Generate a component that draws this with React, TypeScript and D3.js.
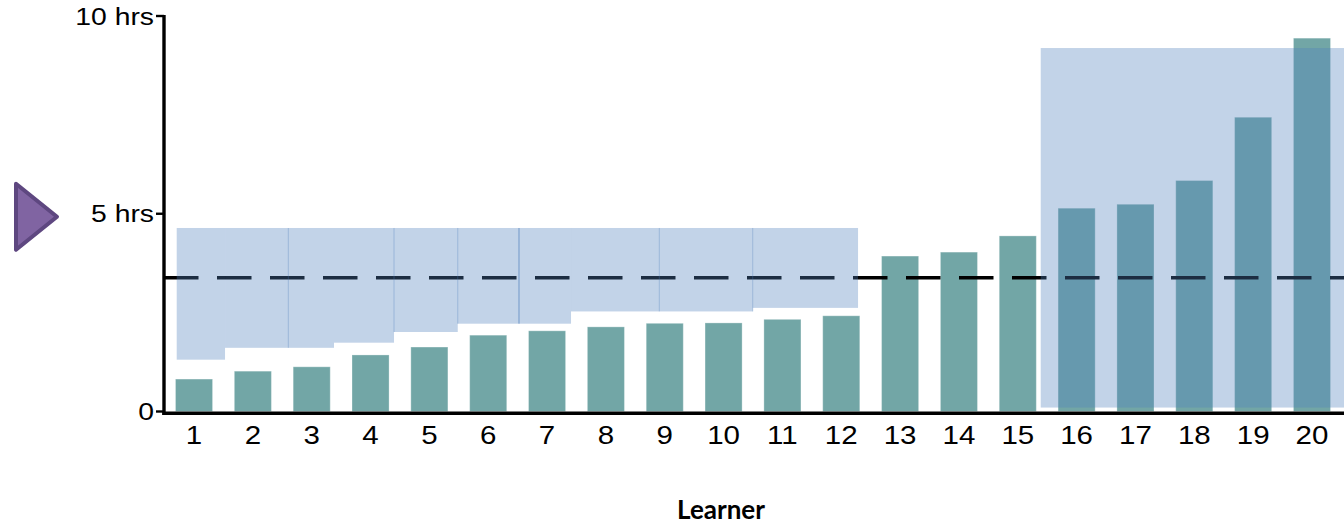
import React, { useEffect, useRef } from 'react';
import * as d3 from 'd3';

// learners on the x axis
const learners = ['1', '2', '3', '4', '5', '6', '7', '8', '9', '10', '11', '12', '13', '14', '15', '16', '17', '18', '19', '20'];
// hours per learner
const hours = [0.82, 1.02, 1.13, 1.43, 1.63, 1.93, 2.04, 2.14, 2.23, 2.24, 2.33, 2.42, 3.93, 4.03, 4.44, 5.14, 5.24, 5.84, 7.44, 9.44];
const averageHours = 3.38;

const yTicks = [0, 5, 10];
const yTickLabels = ['0', '5 hrs', '10 hrs'];

// shaded bands, x in learner units, y in hours: [from, to, bottom, top]
const lowBand: [number, number, number, number][] = [
  [0.706, 1.527, 1.31, 4.64],
  [1.527, 2.603, 1.61, 4.64],
  [2.603, 3.379, 1.61, 4.64],
  [3.379, 4.399, 1.74, 4.64],
  [4.399, 5.482, 2.01, 4.64],
  [5.482, 6.523, 2.22, 4.64],
  [6.523, 7.407, 2.22, 4.64],
  [7.407, 8.908, 2.53, 4.64],
  [8.908, 10.495, 2.53, 4.64],
  [10.495, 12.285, 2.62, 4.64],
];
// seams between band pieces: [x, bottom, width]
const seams: [number, number, number][] = [
  [2.603, 1.61, 1],
  [4.399, 2.01, 1],
  [5.482, 2.22, 1],
  [6.523, 2.22, 2],
  [8.908, 2.53, 1],
  [10.495, 2.53, 1],
];
const highBand: [number, number, number, number] = [15.39, 20.7, 0.1, 9.19];

const W = 1344;
const H = 526;
const STRETCH = 1.18;

const App: React.FC = () => {
  const svgRef = useRef<SVGSVGElement>(null);

  useEffect(() => {
    if (!svgRef.current) return;
    const svg = d3.select(svgRef.current);
    svg.selectAll('*').remove();

    const axisX = 164;
    const x = d3.scaleBand<string>()
      .domain(learners)
      .range([164.6, 1341.4])
      .paddingInner(0.37)
      .paddingOuter(0.185);
    const bw = x.bandwidth();
    const xPos = d3.scaleLinear()
      .domain([1, 20])
      .range([x('1')! + bw / 2, x('20')! + bw / 2]);
    const y = d3.scaleLinear().domain([0, 10]).range([411.5, 16]);

    // bars
    svg.append('g')
      .selectAll('rect')
      .data(hours)
      .enter()
      .append('rect')
      .attr('x', (_, i) => x(learners[i])!)
      .attr('y', d => y(d))
      .attr('width', bw)
      .attr('height', d => y(0) - y(d))
      .attr('fill', '#72a6a6')
      .attr('stroke', 'rgba(255,255,255,0.3)')
      .attr('stroke-width', 1);

    // average line
    svg.append('line')
      .attr('x1', axisX)
      .attr('x2', W)
      .attr('y1', y(averageHours))
      .attr('y2', y(averageHours))
      .attr('stroke', '#000')
      .attr('stroke-width', 3.6)
      .attr('stroke-dasharray', '34.5 18.5');

    // shaded bands
    const bands = svg.append('g').attr('fill', '#4f81bd').attr('fill-opacity', 0.35);
    bands.selectAll('rect.low')
      .data(lowBand)
      .enter()
      .append('rect')
      .attr('class', 'low')
      .attr('x', d => xPos(d[0]))
      .attr('width', d => xPos(d[1]) - xPos(d[0]))
      .attr('y', d => y(d[3]))
      .attr('height', d => y(d[2]) - y(d[3]));
    bands.append('rect')
      .attr('x', xPos(highBand[0]))
      .attr('width', xPos(highBand[1]) - xPos(highBand[0]))
      .attr('y', y(highBand[3]))
      .attr('height', y(highBand[2]) - y(highBand[3]));

    svg.append('g')
      .selectAll('line')
      .data(seams)
      .enter()
      .append('line')
      .attr('x1', d => xPos(d[0]))
      .attr('x2', d => xPos(d[0]))
      .attr('y1', y(lowBand[0][3]))
      .attr('y2', d => y(d[1]))
      .attr('stroke', '#4f81bd')
      .attr('stroke-opacity', 0.35)
      .attr('stroke-width', d => d[2]);

    // axes
    svg.append('line')
      .attr('x1', axisX).attr('x2', axisX)
      .attr('y1', y(10) - 1).attr('y2', y(0) + 3.5)
      .attr('stroke', '#000').attr('stroke-width', 3.4);
    svg.append('line')
      .attr('x1', axisX - 1.7).attr('x2', W)
      .attr('y1', y(0) + 1.8).attr('y2', y(0) + 1.8)
      .attr('stroke', '#000').attr('stroke-width', 3.4);

    const yt = svg.append('g')
      .selectAll('g')
      .data(yTicks)
      .enter()
      .append('g')
      .attr('transform', d => `translate(${axisX},${y(d)})`);
    yt.append('line')
      .attr('x1', -8).attr('x2', 0)
      .attr('stroke', '#000').attr('stroke-width', 2.4);
    yt.append('text')
      .attr('transform', `translate(-10,0) scale(${STRETCH},1)`)
      .attr('dy', '0.36em')
      .attr('text-anchor', 'end')
      .style('font-family', '"Liberation Sans", Arial, sans-serif')
      .style('font-size', '24px')
      .attr('fill', '#000')
      .text((_, i) => yTickLabels[i]);

    svg.append('g')
      .selectAll('text')
      .data(learners)
      .enter()
      .append('text')
      .attr('transform', d => `translate(${x(d)! + bw / 2},${y(0) + 32}) scale(${STRETCH},1)`)
      .attr('text-anchor', 'middle')
      .style('font-family', '"Liberation Sans", Arial, sans-serif')
      .style('font-size', '25px')
      .attr('fill', '#000')
      .text(d => d);

    svg.append('text')
      .attr('x', 721)
      .attr('y', 519)
      .attr('text-anchor', 'middle')
      .style('font-family', 'Lato, sans-serif')
      .style('font-weight', '700')
      .style('font-size', '26px')
      .attr('fill', '#000')
      .text('Learner');

    // marker pointing at the 5 hrs level
    const ty = y(5) + 3;
    svg.append('path')
      .attr('d', `M16,${ty - 33} L57,${ty} L16,${ty + 33} Z`)
      .attr('fill', '#8064a2')
      .attr('stroke', '#5e4780')
      .attr('stroke-width', 4)
      .attr('stroke-linejoin', 'round');
  }, []);

  return (
    <svg
      ref={svgRef}
      width={W}
      height={H}
      viewBox={`0 0 ${W} ${H}`}
      style={{ position: 'absolute', left: 0, top: 0, background: '#fff' }}
    />
  );
};

export default App;
